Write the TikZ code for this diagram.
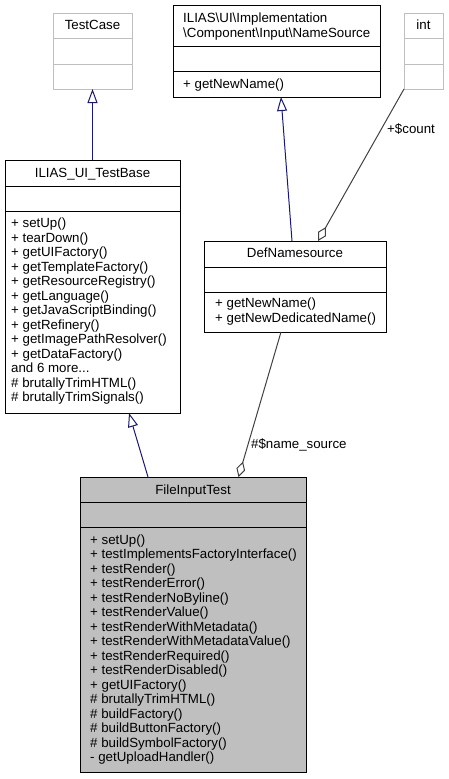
\documentclass[tikz,border=0pt]{standalone}
\usepackage{fontspec}
\setmainfont{Liberation Sans}
\usetikzlibrary{arrows.meta}
\definecolor{navyline}{HTML}{191970}
\definecolor{aggline}{HTML}{404040}
\definecolor{extgray}{HTML}{BFBFBF}
\newcommand\fsz{\fontsize{13.3}{14.5}\selectfont}
\begin{document}
\begin{tikzpicture}[x=1pt,y=-1pt,
  box/.style={draw=black, line width=1pt, inner sep=0pt, outer sep=0pt, anchor=north west},
  ext/.style={draw=extgray},
  mainbox/.style={fill=extgray},
  sep/.style={line width=1pt, draw=black},
  extsep/.style={line width=1pt, draw=extgray},
  lbl/.style={inner sep=0pt, anchor=base, font=\fsz},
  lblw/.style={inner sep=0pt, anchor=base west, font=\fsz},
  meth/.style={inner sep=0pt, anchor=north west, align=left, font=\fsz},
  inh/.style={draw=navyline, line width=1pt, -{Triangle[open, length=14pt, width=10pt]}},
  agg/.style={draw=aggline, line width=1pt, -{Diamond[open, length=16pt, width=9pt]}}]
\useasboundingbox (0,0) rectangle (448,779);

% TestCase
\node[box, ext, minimum width=79pt, minimum height=76pt] (tc) at (53,13) {};
\draw[extsep] (tc.west |- 0,38) -- (tc.east |- 0,38);
\draw[extsep] (tc.west |- 0,64) -- (tc.east |- 0,64);
\node[lbl] (tct) at (92.5,29.5) {TestCase};

% NameSource
\node[box, minimum width=207pt, minimum height=92pt] (ns) at (173,5) {};
\draw[sep] (ns.west |- 0,46) -- (ns.east |- 0,46);
\draw[sep] (ns.west |- 0,71) -- (ns.east |- 0,71);
\node[lblw] (nst1) at (183,22) {ILIAS\textbackslash UI\textbackslash Implementation};
\node[lblw] (nst2) at (183,37) {\textbackslash Component\textbackslash Input\textbackslash NameSource};
\node[lblw] (nsm) at (183,88) {+ getNewName()};

% int
\node[box, ext, minimum width=39pt, minimum height=76pt] (int) at (404,13) {};
\draw[extsep] (int.west |- 0,38) -- (int.east |- 0,38);
\draw[extsep] (int.west |- 0,64) -- (int.east |- 0,64);
\node[lbl] (intt) at (423.5,29.5) {int};

% ILIAS_UI_TestBase
\node[box, minimum width=175pt, minimum height=253pt] (tb) at (5,160) {};
\draw[sep] (tb.west |- 0,186) -- (tb.east |- 0,186);
\draw[sep] (tb.west |- 0,211) -- (tb.east |- 0,211);
\node[lbl] (tbt) at (92.5,177) {ILIAS\_UI\_TestBase};
\node[meth] (tbm) at (11,218) {+ setUp()\\+ tearDown()\\+ getUIFactory()\\+ getTemplateFactory()\\+ getResourceRegistry()\\+ getLanguage()\\+ getJavaScriptBinding()\\+ getRefinery()\\+ getImagePathResolver()\\+ getDataFactory()\\and 6 more...\\\# brutallyTrimHTML()\\\# brutallyTrimSignals()};

% DefNamesource
\node[box, minimum width=182pt, minimum height=91pt] (dn) at (204,241) {};
\draw[sep] (dn.west |- 0,267) -- (dn.east |- 0,267);
\draw[sep] (dn.west |- 0,292) -- (dn.east |- 0,292);
\node[lbl] (dnt) at (295,257) {DefNamesource};
\node[meth] (dnm) at (215,298) {+ getNewName()\\+ getNewDedicatedName()};

% FileInputTest
\node[box, mainbox, minimum width=226pt, minimum height=295pt] (fi) at (80,477) {};
\draw[sep] (fi.west |- 0,502) -- (fi.east |- 0,502);
\draw[sep] (fi.west |- 0,527) -- (fi.east |- 0,527);
\node[lbl] (fit) at (193,494) {FileInputTest};
\node[meth] (fim) at (90,534.5) {+ setUp()\\+ testImplementsFactoryInterface()\\+ testRender()\\+ testRenderError()\\+ testRenderNoByline()\\+ testRenderValue()\\+ testRenderWithMetadata()\\+ testRenderWithMetadataValue()\\+ testRenderRequired()\\+ testRenderDisabled()\\+ getUIFactory()\\\# brutallyTrimHTML()\\\# buildFactory()\\\# buildButtonFactory()\\\# buildSymbolFactory()\\- getUploadHandler()};

% connectors
\draw[inh] (tb.north) -- (tc.south);
\draw[inh] ([xshift=-3pt]dn.north) -- ([xshift=4.5pt]ns.south);
\draw[inh] ([xshift=-45pt]fi.north) -- ([xshift=36.5pt]tb.south);
\draw[agg] (int.south west) -- ([xshift=23pt]dn.north);
\draw[agg] ([xshift=-14pt]dn.south) -- ([xshift=45.5pt]fi.north);
\node[lblw] (lcount) at (387,133) {+\$count};
\node[lblw] (lname) at (251,448) {\#\$name\_source};
\end{tikzpicture}
\end{document}
